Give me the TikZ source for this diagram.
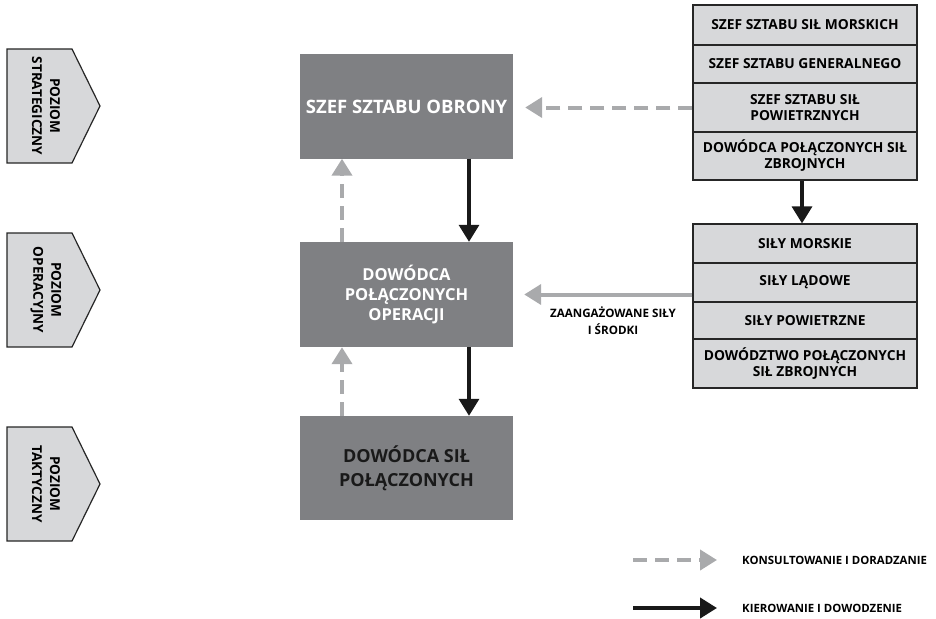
\documentclass[tikz,border=0pt]{standalone}
\usepackage{fontspec}
\setmainfont{Open Sans}
\usetikzlibrary{arrows.meta}
\definecolor{boxgray}{HTML}{7F8083}
\definecolor{cellgray}{HTML}{D7D8DA}
\definecolor{arrowgray}{HTML}{A9AAAC}

\begin{document}
\begin{tikzpicture}
  [x=1pt,y=-1pt,
   unit/.style={rectangle,fill=boxgray,minimum width=213pt,minimum height=104pt,align=center,font=\bfseries\fontsize{16.5}{20}\selectfont},
   cell/.style={rectangle,draw=black!85,line width=1.2pt,fill=cellgray,minimum width=224pt,align=center,inner sep=1pt,font=\bfseries\fontsize{13.8}{16}\selectfont},
   level/.style={rotate=-90,align=center,inner sep=0pt,font=\bfseries\fontsize{13.6}{18}\selectfont},
   note/.style={align=center,inner sep=0pt,font=\bfseries\fontsize{11.6}{17}\selectfont},
   command/.style={draw=black!90,line width=3.3pt,-{Triangle[width=20pt,length=17pt]}},
   consult/.style={draw=arrowgray,line width=4pt,dash pattern=on 14pt off 8pt,-{Triangle[width=20pt,length=17pt]}},
   forces/.style={draw=arrowgray,line width=4pt,-{Triangle[width=20pt,length=17pt]}}]
  \useasboundingbox (0,0) rectangle (936,618);

  % levels
  \foreach \y/\lvl in {49/STRATEGICZNY,233/OPERACYJNY,427/TAKTYCZNY}{
    \draw[fill=cellgray,draw=black!85,line width=1.2pt] (7,\y) -- (72,\y) -- (100,\y+57) -- (72,\y+114) -- (7,\y+114) -- cycle;
    \node[level] (tag\lvl) at (46,\y+57) {POZIOM\\\lvl};
  }

  % chain of command
  \node[unit,text=white,font=\bfseries\fontsize{18.5}{22}\selectfont] (b1) at (406.5,106.5) {SZEF SZTABU OBRONY};
  \node[unit,text=white,minimum height=105pt] (b2) at (406.5,294.5) {DOWÓDCA\\POŁĄCZONYCH\\OPERACJI};
  \node[unit,text=black!90,font=\bfseries\fontsize{18}{24}\selectfont] (b3) at (406.5,468) {DOWÓDCA SIŁ\\POŁĄCZONYCH};

  % chiefs
  \node[cell,minimum height=40pt] (s11) at (805,25) {SZEF SZTABU SIŁ MORSKICH};
  \node[cell,minimum height=38pt] (s12) at (805,64) {SZEF SZTABU GENERALNEGO};
  \node[cell,minimum height=49pt] (s13) at (805,107.5) {SZEF SZTABU SIŁ\\POWIETRZNYCH};
  \node[cell,minimum height=48pt] (s14) at (805,156) {DOWÓDCA POŁĄCZONYCH SIŁ\\ZBROJNYCH};

  % forces
  \node[cell,minimum height=39pt] (s21) at (805,243.5) {SIŁY MORSKIE};
  \node[cell,minimum height=39pt] (s22) at (805,282.5) {SIŁY LĄDOWE};
  \node[cell,minimum height=37pt] (s23) at (805,320.5) {SIŁY POWIETRZNE};
  \node[cell,minimum height=49pt] (s24) at (805,363.5) {DOWÓDZTWO POŁĄCZONYCH\\SIŁ ZBROJNYCH};

  \draw[command] ([xshift=62.5pt]b1.south) -- ([xshift=62.5pt]b2.north);
  \draw[command] ([xshift=62.5pt]b2.south) -- ([xshift=62.5pt]b3.north);
  \draw[consult] ([xshift=-64.5pt]b2.north) -- ([xshift=-64.5pt]b1.south);
  \draw[consult] ([xshift=-64.5pt]b3.north) -- ([xshift=-64.5pt]b2.south);
  \draw[command] ([xshift=-3pt]s14.south) -- ([xshift=-3pt]s21.north);
  \draw[consult,shorten >=12pt] (s13.west) -- (s13.west -| b1.east);
  \draw[forces,shorten >=11pt] (s22.west |- b2.east) -- (b2.east);
  \node[note] (engaged) at (613,321) {ZAANGAŻOWANE SIŁY\\I ŚRODKI};

  % legend
  \coordinate (k1) at (633,560);
  \coordinate (k2) at (633,608);
  \node[note,anchor=west,font=\bfseries\fontsize{11.4}{14}\selectfont] (consulting) at (742,560) {KONSULTOWANIE I DORADZANIE};
  \node[note,anchor=west,font=\bfseries\fontsize{11.4}{14}\selectfont] (commanding) at (742,608) {KIEROWANIE I DOWODZENIE};
  \draw[consult] (k1) -- ([xshift=-25pt]consulting.west);
  \draw[command,line width=4pt] (k2) -- ([xshift=-25pt]commanding.west);
\end{tikzpicture}
\end{document}
